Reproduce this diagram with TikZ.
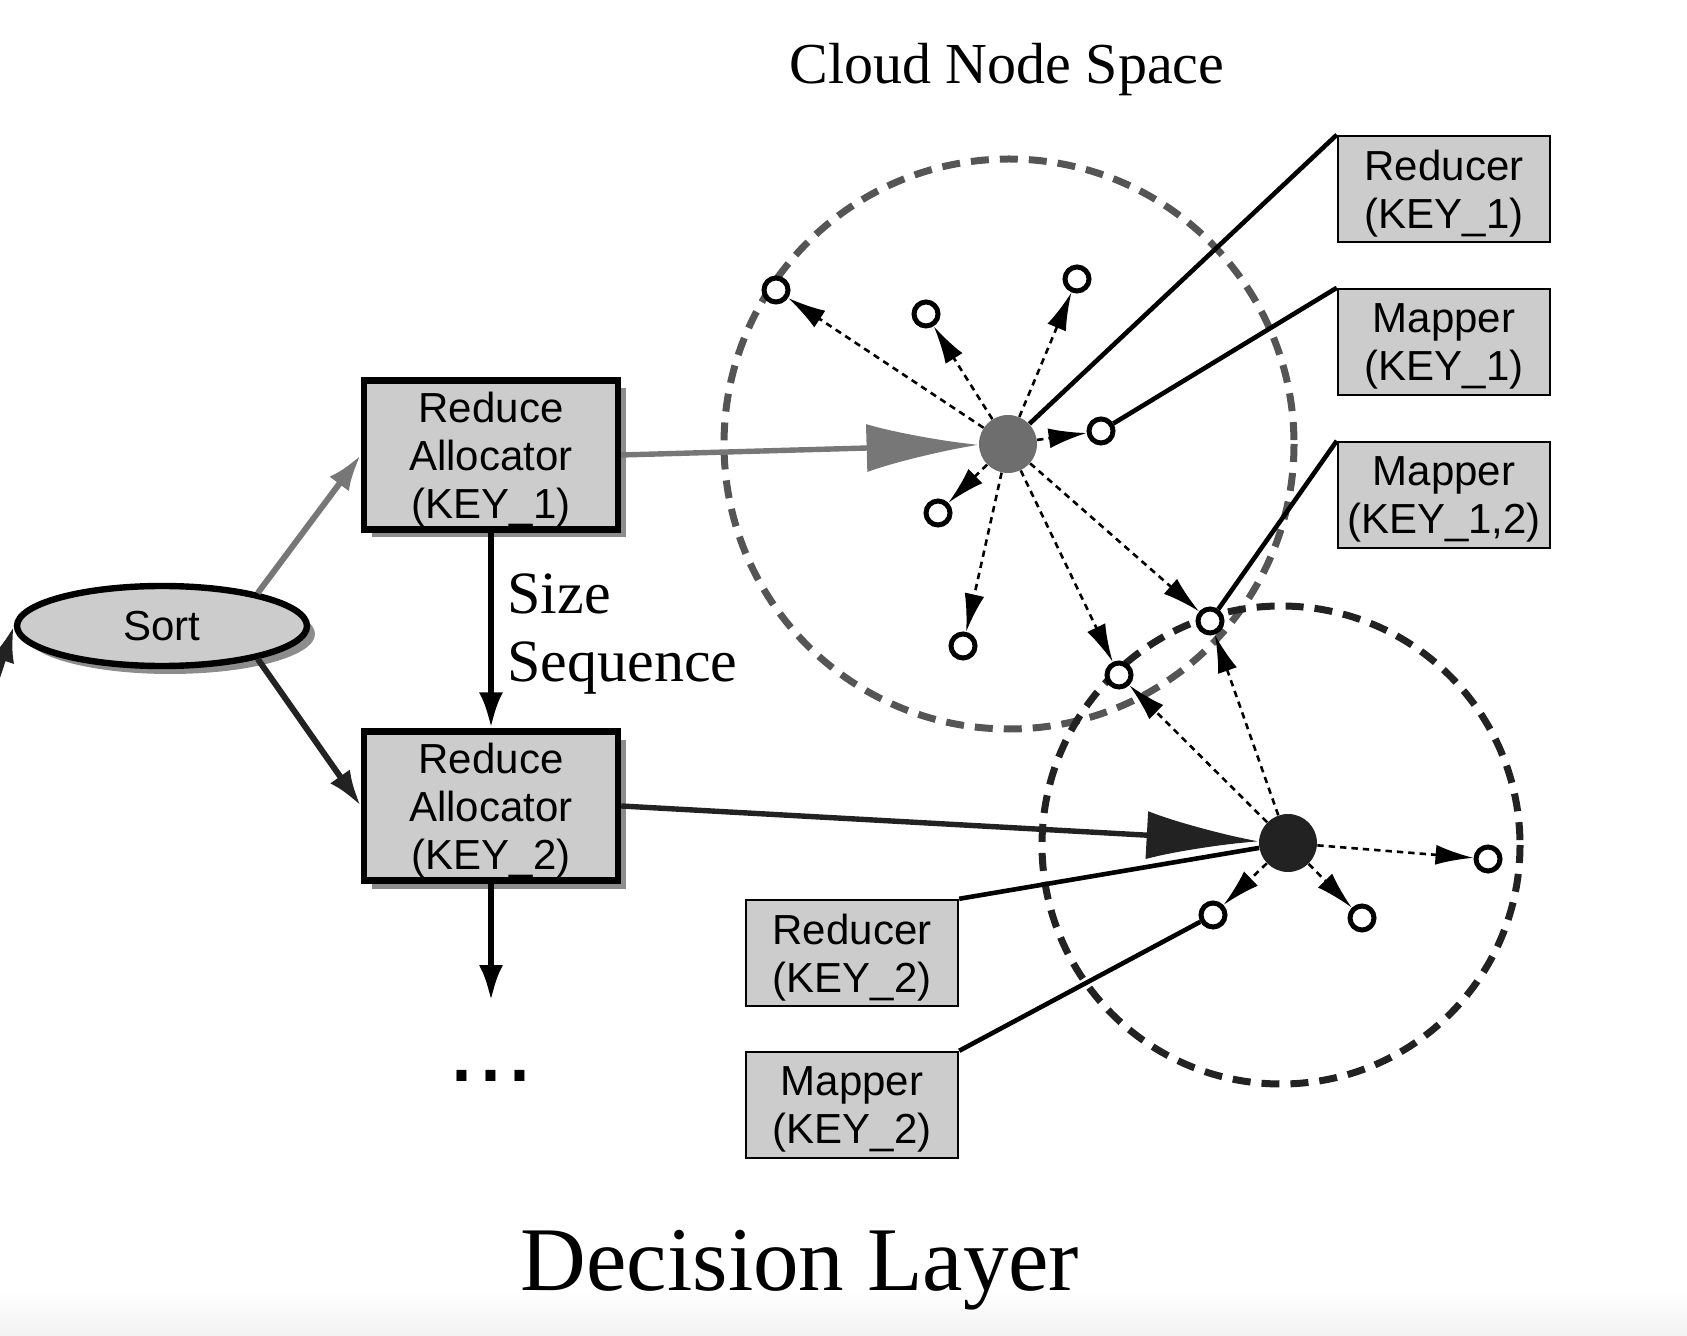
\documentclass[tikz,border=0pt]{standalone}
\usepackage{fontspec}
\setmainfont{Liberation Serif}
\setsansfont{Liberation Sans}
\usetikzlibrary{arrows.meta,shadows,shapes.geometric}

\definecolor{boxgray}{HTML}{CCCCCC}
\definecolor{hubgray}{HTML}{6E6E6E}
\definecolor{arrowgray}{HTML}{777777}
\definecolor{ringgray}{HTML}{555555}
\definecolor{darkline}{HTML}{222222}

\tikzset{
  alloc/.style={draw, line width=3.2pt, fill=boxgray, minimum width=127pt, minimum height=74.5pt,
    inner sep=0pt, text depth=0pt, align=center, font=\sffamily\fontsize{21}{24}\selectfont,
    drop shadow={shadow xshift=4pt, shadow yshift=-4pt, fill=black!45, opacity=1}},
  role/.style={draw, line width=1.2pt, fill=boxgray, minimum width=106pt, minimum height=53pt,
    inner sep=0pt, text depth=0pt, align=center, font=\sffamily\fontsize{21}{24}\selectfont},
  worker/.style={circle, draw, line width=2.5pt, fill=white, minimum size=12pt, inner sep=0pt},
  hub/.style={circle, minimum size=29pt, inner sep=0pt},
  probe/.style={line width=1.3pt, dash pattern=on 3.2pt off 2.5pt, -{Latex[length=19pt,width=10pt]}},
  feed/.style={line width=3pt, -{Latex[length=18pt,width=12pt]}},
  bigfeed/.style={line width=2.7pt, -{Latex[length=56pt,width=24pt]}},
  wire/.style={line width=2.3pt},
  ring/.style={line width=3.5pt, dash pattern=on 9pt off 5.5pt}
}

\begin{document}
\begin{tikzpicture}[x=0.5pt,y=-0.5pt]
    \useasboundingbox (0,0) rectangle (1687,1336);
    \shade[top color=white, bottom color=black!5] (0,1290) rectangle (1687,1336);

    % Titles
    \node[anchor=base, font=\fontsize{29}{34}\selectfont] (cloud) at (1007,84) {Cloud Node Space};
    \node[anchor=base, font=\fontsize{45.5}{52}\selectfont] (layer) at (800,1290) {Decision Layer};

    % Node spaces
    \draw[ring, ringgray] (1009,444) circle[radius=285];
    \draw[ring, darkline] (1281,845) circle[radius=239];

    % Decision side
    \node[ellipse, draw, line width=3.2pt, fill=boxgray, minimum width=145pt, minimum height=40pt,
      font=\sffamily\fontsize{21}{24}\selectfont,
      drop shadow={shadow xshift=4pt, shadow yshift=-4pt, fill=black!45, opacity=1}] (sort) at (162,626) {Sort};
    \node[alloc] (alloc1) at (491,455) {Reduce\\Allocator\\(KEY\_1)};
    \node[alloc] (alloc2) at (491,806) {Reduce\\Allocator\\(KEY\_2)};
    \node[anchor=west, inner sep=0pt, align=left, font=\fontsize{30}{34}\selectfont] (seq) at (507,634) {Size\\Sequence};
    \node[anchor=base, inner sep=0pt, font=\sffamily\fontsize{52}{60}\selectfont] (etc) at (491,1081) {...};
    \coordinate (inflow) at (-25,745);
    \coordinate (more) at (491,1001);

    \draw[feed, darkline] (inflow) -- (sort.west);
    \draw[feed, arrowgray] (sort.19) -- (alloc1.west);
    \draw[feed, darkline] (sort.-19) -- (alloc2.west);
    \draw[feed, black] (alloc1.south) -- (alloc2.north);
    \draw[feed, black] (alloc2.south) -- (more);

    % Cloud nodes
    \node[hub, fill=hubgray] (hub1) at (1008,444) {};
    \node[hub, fill=darkline] (hub2) at (1288,843) {};
    \node[worker] (w1) at (776,290) {};
    \node[worker] (w2) at (926,314) {};
    \node[worker] (w3) at (1077,279) {};
    \node[worker] (w4) at (1101,431) {};
    \node[worker] (w5) at (938,513) {};
    \node[worker] (w6) at (963,646) {};
    \node[worker] (w7) at (1210,621) {};
    \node[worker] (w8) at (1119,675) {};
    \node[worker] (w9) at (1488,859) {};
    \node[worker] (w10) at (1362,918) {};
    \node[worker] (w11) at (1213,915) {};

    % Allocation requests
    \draw[bigfeed, arrowgray] (alloc1.east) -- (hub1);
    \draw[bigfeed, darkline] (alloc2.east) -- (hub2);

    % Probes from KEY_1
    \draw[probe] (hub1) -- (w1);
    \draw[probe] (hub1) -- (w2);
    \draw[probe] (hub1) -- (w3);
    \draw[probe] (hub1) -- (w4);
    \draw[probe] (hub1) -- (w5);
    \draw[probe] (hub1) -- (w6);
    \draw[probe] (hub1) -- (w7);
    \draw[probe] (hub1) -- (w8);

    % Probes from KEY_2
    \draw[probe] (hub2) -- (w7);
    \draw[probe] (hub2) -- (w8);
    \draw[probe] (hub2) -- (w9);
    \draw[probe] (hub2) -- (w10);
    \draw[probe] (hub2) -- (w11);

    % Roles
    \node[role] (red1) at (1444,189) {Reducer\\(KEY\_1)};
    \node[role] (map1) at (1444,342) {Mapper\\(KEY\_1)};
    \node[role] (map12) at (1444,495) {Mapper\\(KEY\_1,2)};
    \node[role] (red2) at (852,953) {Reducer\\(KEY\_2)};
    \node[role] (map2) at (852,1105) {Mapper\\(KEY\_2)};

    \draw[wire] (red1.north west) -- (hub1);
    \draw[wire] (map1.north west) -- (w4);
    \draw[wire] (map12.north west) -- (w7);
    \draw[wire] (red2.north east) -- (hub2);
    \draw[wire] (map2.north east) -- (w11);
\end{tikzpicture}
\end{document}
